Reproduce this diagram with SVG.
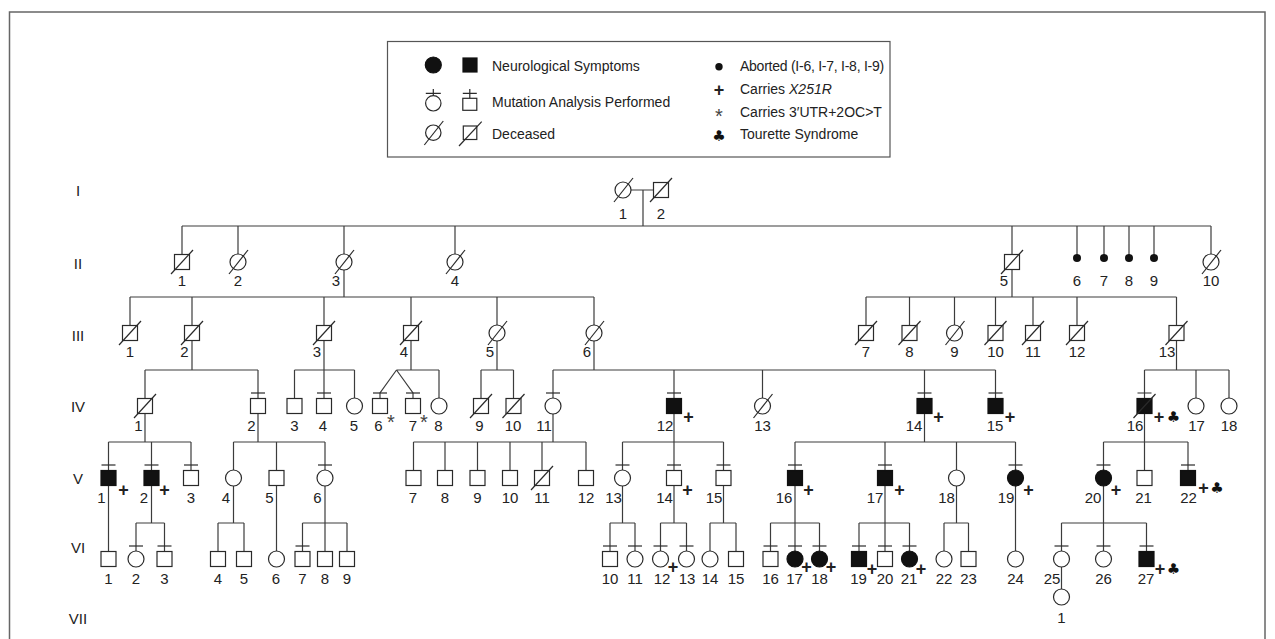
<svg xmlns="http://www.w3.org/2000/svg" width="1275" height="639" viewBox="0 0 1275 639">
<style>
.c{fill:none;stroke:#3c3c3c;stroke-width:1.2}
.o{fill:#fff;stroke:#2a2a2a;stroke-width:1.2}
.f{fill:#111;stroke:#111;stroke-width:1.2}
.k{fill:none;stroke:#2a2a2a;stroke-width:1.2}
.t{font-family:"Liberation Sans",Arial,Helvetica,sans-serif;font-size:15px;fill:#222;text-anchor:middle}
.p{font-family:"Liberation Sans",Arial,sans-serif;font-size:18px;font-weight:bold;fill:#222;text-anchor:middle}
.a{font-family:"Liberation Sans",Arial,sans-serif;font-size:20px;fill:#444;text-anchor:middle}
.cl{font-family:"DejaVu Sans",sans-serif;font-size:15px;fill:#111;text-anchor:middle}
.lg{font-family:"Liberation Sans",Arial,sans-serif;font-size:14px;fill:#222}
</style>
<rect x="0" y="0" width="1275" height="639" fill="#fff"/>
<rect x="9.5" y="12" width="1255.5" height="700" fill="none" stroke="#666" stroke-width="1.5"/>

<g id="legend">
<rect x="387.5" y="41.5" width="502.5" height="115.5" fill="#fff" stroke="#555" stroke-width="1.2"/>
<circle cx="433.3" cy="65" r="8" class="f"/>
<rect x="463" y="58" width="14" height="14" class="f"/>
<text class="lg" x="492" y="70.7">Neurological Symptoms</text>
<path class="k" d="M433.3 89 V95.6 M425.8 93.3 H440.8"/>
<circle cx="433.3" cy="103.3" r="7.7" class="o"/>
<path class="k" d="M469.8 89 V98.3 M462.8 93.3 H476.8"/>
<rect x="462.8" y="98.3" width="14" height="12" class="o"/>
<text class="lg" x="492" y="107.3">Mutation Analysis Performed</text>
<circle cx="433.3" cy="132.7" r="7.7" class="o"/>
<path class="k" d="M424.3 145 L443.3 121"/>
<rect x="463.3" y="126" width="13.5" height="13.5" class="o"/>
<path class="k" d="M459 146 L481.7 121.7"/>
<text class="lg" x="492" y="139">Deceased</text>
<circle cx="719" cy="66.7" r="3.7" fill="#111"/>
<text class="lg" x="740" y="70.7" letter-spacing="-0.25">Aborted (I-6, I-7, I-8, I-9)</text>
<text class="p" x="719" y="96" font-weight="normal">+</text>
<text class="lg" x="740" y="94">Carries <tspan font-style="italic">X251R</tspan></text>
<text class="a" x="719" y="123">*</text>
<text class="lg" x="740" y="117.3">Carries 3′UTR+2OC&gt;T</text>
<text class="cl" x="719" y="140.5">♣</text>
<text class="lg" x="740" y="139">Tourette Syndrome</text>
</g>

<g id="generation-labels">
<text class="t" x="78" y="195.5">I</text>
<text class="t" x="78" y="268.5">II</text>
<text class="t" x="78" y="340.5">III</text>
<text class="t" x="78" y="412">IV</text>
<text class="t" x="78" y="483.5">V</text>
<text class="t" x="78" y="553">VI</text>
<text class="t" x="78" y="623.5">VII</text>
</g>

<g id="connectors">
<path class="c" d="M631 190 H653.5 M643 190 V226 M182 226 H1211 M182 226 V254.5 M238 226 V254 M344 226 V254 M455 226 V254 M1012 226 V254.5 M1077 226 V258 M1104 226 V258 M1129 226 V258 M1154 226 V258 M1211 226 V254"/>
<path class="c" d="M344 270 V297 M130 297 H594 M130 297 V325.5 M192 297 V325.5 M324 297 V325.5 M411 297 V325.5 M497 297 V325 M594 297 V325"/>
<path class="c" d="M1012 269.5 V297 M866 297 H1176.5 M866 297 V325.5 M909.5 297 V325.5 M954.5 297 V325 M995.5 297 V325.5 M1033 297 V325.5 M1077 297 V325.5 M1176.5 297 V325.5"/>
<path class="c" d="M192 340.5 V370 M145 370 H258 M145 370 V398.5 M258 370 V398.5"/>
<path class="c" d="M324 340.5 V370 M294.5 370 H354.5 M294.5 370 V398.5 M324 370 V398.5 M354.5 370 V398"/>
<path class="c" d="M411 340.5 V370 M396.5 370 H439 M396.5 370 L380 393 V398.5 M396.5 370 L413 393 V398.5 M439 370 V398"/>
<path class="c" d="M497 341 V370 M481 370 H513.5 M481 370 V398.5 M513.5 370 V398.5"/>
<path class="c" d="M594 341 V370 M553 370 H995.5 M553 370 V398 M674 370 V398.5 M762.5 370 V398 M924.5 370 V398.5 M995.5 370 V398.5"/>
<path class="c" d="M1176.5 340.5 V370 M1144.5 370 H1229 M1144.5 370 V398.5 M1196 370 V398 M1229 370 V398"/>
<path class="c" d="M145 413.5 V442 M108.5 442 H191 M108.5 442 V470.5 M151.5 442 V470.5 M191 442 V470.5"/>
<path class="c" d="M258 413.5 V442 M233.5 442 H325 M233.5 442 V470 M276.5 442 V470.5 M325 442 V470"/>
<path class="c" d="M553 414 V442 M413.5 442 H586 M413.5 442 V470.5 M445 442 V470.5 M477.5 442 V470.5 M510 442 V470.5 M542 442 V470.5 M586 442 V470.5"/>
<path class="c" d="M674 413.5 V442 M622.5 442 H723.5 M622.5 442 V470 M674 442 V470.5 M723.5 442 V470.5"/>
<path class="c" d="M924.5 413.5 V442 M795 442 H1015.5 M795 442 V470.5 M885 442 V470.5 M956.5 442 V470 M1015.5 442 V470"/>
<path class="c" d="M1144.5 413.5 V442 M1103.5 442 H1188 M1103.5 442 V470 M1144.5 442 V470.5 M1188 442 V470.5"/>
<path class="c" d="M108.5 485.5 V551.5"/>
<path class="c" d="M151.5 485.5 V523 M136 523 H164.5 M136 523 V551 M164.5 523 V551.5"/>
<path class="c" d="M233.5 486 V523 M218 523 H244 M218 523 V551.5 M244 523 V551.5"/>
<path class="c" d="M276.5 485.5 V551"/>
<path class="c" d="M325 486 V523 M302.5 523 H347 M302.5 523 V551.5 M325 523 V551.5 M347 523 V551.5"/>
<path class="c" d="M622.5 486 V523 M610 523 H635 M610 523 V551.5 M635 523 V551"/>
<path class="c" d="M674 485.5 V523 M660.5 523 H686.5 M660.5 523 V551 M686.5 523 V551"/>
<path class="c" d="M723.5 485.5 V523 M710 523 H736 M710 523 V551 M736 523 V551.5"/>
<path class="c" d="M795 485.5 V523 M770.5 523 H819.5 M770.5 523 V551.5 M795 523 V551 M819.5 523 V551"/>
<path class="c" d="M885 485.5 V523 M859 523 H909.5 M859 523 V551.5 M885 523 V551.5 M909.5 523 V551"/>
<path class="c" d="M956.5 486 V523 M944 523 H968.5 M944 523 V551 M968.5 523 V551.5"/>
<path class="c" d="M1015.5 486 V551"/>
<path class="c" d="M1103.5 486 V523 M1061.5 523 H1146.5 M1061.5 523 V551 M1103.5 523 V551 M1146.5 523 V551.5"/>
<path class="c" d="M1061.5 567 V589"/>
</g>

<g id="I-1"><circle class="o" cx="623" cy="190" r="8"/><path class="k" d="M614 202 L633 178"/><text class="t" x="623" y="218.5">1</text></g>
<g id="I-2"><rect class="o" x="653.5" y="182.5" width="15" height="15"/><path class="k" d="M650 202 L672 178"/><text class="t" x="661" y="218.5">2</text></g>

<g id="II-1"><rect class="o" x="174.5" y="254.5" width="15" height="15"/><path class="k" d="M171 274 L193 250"/><text class="t" x="182" y="285.5">1</text></g>
<g id="II-2"><circle class="o" cx="238" cy="262" r="8"/><path class="k" d="M229 274 L248 250"/><text class="t" x="238" y="285.5">2</text></g>
<g id="II-3"><circle class="o" cx="344" cy="262" r="8"/><path class="k" d="M335 274 L354 250"/><text class="t" x="336" y="285.5">3</text></g>
<g id="II-4"><circle class="o" cx="455" cy="262" r="8"/><path class="k" d="M446 274 L465 250"/><text class="t" x="455" y="285.5">4</text></g>
<g id="II-5"><rect class="o" x="1004.5" y="254.5" width="15" height="15"/><path class="k" d="M1001 274 L1023 250"/><text class="t" x="1004" y="285.5">5</text></g>
<g id="II-6"><circle cx="1077" cy="258" r="4" fill="#111"/><text class="t" x="1077" y="285.5">6</text></g>
<g id="II-7"><circle cx="1104" cy="258" r="4" fill="#111"/><text class="t" x="1104" y="285.5">7</text></g>
<g id="II-8"><circle cx="1129" cy="258" r="4" fill="#111"/><text class="t" x="1129" y="285.5">8</text></g>
<g id="II-9"><circle cx="1154" cy="258" r="4" fill="#111"/><text class="t" x="1154" y="285.5">9</text></g>
<g id="II-10"><circle class="o" cx="1211" cy="262" r="8"/><path class="k" d="M1202 274 L1221 250"/><text class="t" x="1211" y="285.5">10</text></g>

<g id="III-1"><rect class="o" x="122.5" y="325.5" width="15" height="15"/><path class="k" d="M119 345 L141 321"/><text class="t" x="130" y="357">1</text></g>
<g id="III-2"><rect class="o" x="184.5" y="325.5" width="15" height="15"/><path class="k" d="M181 345 L203 321"/><text class="t" x="184.5" y="357">2</text></g>
<g id="III-3"><rect class="o" x="316.5" y="325.5" width="15" height="15"/><path class="k" d="M313 345 L335 321"/><text class="t" x="317" y="357">3</text></g>
<g id="III-4"><rect class="o" x="403.5" y="325.5" width="15" height="15"/><path class="k" d="M400 345 L422 321"/><text class="t" x="404" y="357">4</text></g>
<g id="III-5"><circle class="o" cx="497" cy="333" r="8"/><path class="k" d="M488 345 L507 321"/><text class="t" x="490" y="357">5</text></g>
<g id="III-6"><circle class="o" cx="594" cy="333" r="8"/><path class="k" d="M585 345 L604 321"/><text class="t" x="587" y="357">6</text></g>
<g id="III-7"><rect class="o" x="858.5" y="325.5" width="15" height="15"/><path class="k" d="M855 345 L877 321"/><text class="t" x="866" y="357">7</text></g>
<g id="III-8"><rect class="o" x="902" y="325.5" width="15" height="15"/><path class="k" d="M898.5 345 L920.5 321"/><text class="t" x="909.5" y="357">8</text></g>
<g id="III-9"><circle class="o" cx="954.5" cy="333" r="8"/><path class="k" d="M945.5 345 L964.5 321"/><text class="t" x="954.5" y="357">9</text></g>
<g id="III-10"><rect class="o" x="988" y="325.5" width="15" height="15"/><path class="k" d="M984.5 345 L1006.5 321"/><text class="t" x="995.5" y="357">10</text></g>
<g id="III-11"><rect class="o" x="1025.5" y="325.5" width="15" height="15"/><path class="k" d="M1022 345 L1044 321"/><text class="t" x="1033" y="357">11</text></g>
<g id="III-12"><rect class="o" x="1069.5" y="325.5" width="15" height="15"/><path class="k" d="M1066 345 L1088 321"/><text class="t" x="1077" y="357">12</text></g>
<g id="III-13"><rect class="o" x="1169" y="325.5" width="15" height="15"/><path class="k" d="M1165.5 345 L1187.5 321"/><text class="t" x="1167" y="357">13</text></g>

<g id="IV-1"><rect class="o" x="137.5" y="398.5" width="15" height="15"/><path class="k" d="M134 418 L156 394"/><text class="t" x="138.5" y="430.5">1</text></g>
<g id="IV-2"><rect class="o" x="250.5" y="398.5" width="15" height="15"/><path class="k" d="M251 393 H265"/><text class="t" x="251.5" y="430.5">2</text></g>
<g id="IV-3"><rect class="o" x="287" y="398.5" width="15" height="15"/><text class="t" x="294.5" y="430.5">3</text></g>
<g id="IV-4"><rect class="o" x="316.5" y="398.5" width="15" height="15"/><path class="k" d="M317 393 H331"/><text class="t" x="323" y="430.5">4</text></g>
<g id="IV-5"><circle class="o" cx="354.5" cy="406" r="8"/><text class="t" x="354" y="430.5">5</text></g>
<g id="IV-6"><rect class="o" x="372.5" y="398.5" width="15" height="15"/><path class="k" d="M373 393 H387"/><text class="t" x="378.5" y="430.5">6</text><text class="a" x="391" y="428.5">*</text></g>
<g id="IV-7"><rect class="o" x="405.5" y="398.5" width="15" height="15"/><path class="k" d="M406 393 H420"/><text class="t" x="413" y="430.5">7</text><text class="a" x="424" y="428.5">*</text></g>
<g id="IV-8"><circle class="o" cx="439" cy="406" r="8"/><text class="t" x="438.5" y="430.5">8</text></g>
<g id="IV-9"><rect class="o" x="473.5" y="398.5" width="15" height="15"/><path class="k" d="M470 418 L492 394"/><text class="t" x="479.5" y="430.5">9</text></g>
<g id="IV-10"><rect class="o" x="506" y="398.5" width="15" height="15"/><path class="k" d="M502.5 418 L524.5 394"/><text class="t" x="513" y="430.5">10</text></g>
<g id="IV-11"><circle class="o" cx="553" cy="406" r="8"/><path class="k" d="M546 393 H560"/><text class="t" x="544" y="430.5">11</text></g>
<g id="IV-12"><rect class="f" x="666.5" y="398.5" width="15" height="15"/><path class="k" d="M667 393 H681"/><text class="t" x="665" y="430.5">12</text><text class="p" x="688.5" y="423">+</text></g>
<g id="IV-13"><circle class="o" cx="762.5" cy="406" r="8"/><path class="k" d="M753.5 418 L772.5 394"/><text class="t" x="762.5" y="430.5">13</text></g>
<g id="IV-14"><rect class="f" x="917" y="398.5" width="15" height="15"/><path class="k" d="M917.5 393 H931.5"/><text class="t" x="914" y="430.5">14</text><text class="p" x="938.5" y="423">+</text></g>
<g id="IV-15"><rect class="f" x="988" y="398.5" width="15" height="15"/><path class="k" d="M988.5 393 H1002.5"/><text class="t" x="995" y="430.5">15</text><text class="p" x="1010" y="423">+</text></g>
<g id="IV-16"><rect class="f" x="1137" y="398.5" width="15" height="15"/><path class="k" d="M1137.5 393 H1151.5 M1133.5 418 L1155.5 394"/><text class="t" x="1135" y="430.5">16</text><text class="p" x="1159" y="423">+</text><text class="cl" x="1173.5" y="422">♣</text></g>
<g id="IV-17"><circle class="o" cx="1196" cy="406" r="8"/><text class="t" x="1196.5" y="430.5">17</text></g>
<g id="IV-18"><circle class="o" cx="1229" cy="406" r="8"/><text class="t" x="1229" y="430.5">18</text></g>

<g id="V-1"><rect class="f" x="101" y="470.5" width="15" height="15"/><path class="k" d="M101.5 465 H115.5"/><text class="t" x="101.5" y="502.5">1</text><text class="p" x="123.5" y="496">+</text></g>
<g id="V-2"><rect class="f" x="144" y="470.5" width="15" height="15"/><path class="k" d="M144.5 465 H158.5"/><text class="t" x="144" y="502.5">2</text><text class="p" x="164.5" y="496">+</text></g>
<g id="V-3"><rect class="o" x="183.5" y="470.5" width="15" height="15"/><path class="k" d="M184 465 H198"/><text class="t" x="191" y="502.5">3</text></g>
<g id="V-4"><circle class="o" cx="233.5" cy="478" r="8"/><text class="t" x="226" y="502.5">4</text></g>
<g id="V-5"><rect class="o" x="269" y="470.5" width="15" height="15"/><text class="t" x="269.5" y="502.5">5</text></g>
<g id="V-6"><circle class="o" cx="325" cy="478" r="8"/><path class="k" d="M318 465 H332"/><text class="t" x="317.5" y="502.5">6</text></g>
<g id="V-7"><rect class="o" x="406" y="470.5" width="15" height="15"/><text class="t" x="413" y="502.5">7</text></g>
<g id="V-8"><rect class="o" x="437.5" y="470.5" width="15" height="15"/><text class="t" x="445" y="502.5">8</text></g>
<g id="V-9"><rect class="o" x="470" y="470.5" width="15" height="15"/><text class="t" x="477.5" y="502.5">9</text></g>
<g id="V-10"><rect class="o" x="502.5" y="470.5" width="15" height="15"/><text class="t" x="510" y="502.5">10</text></g>
<g id="V-11"><rect class="o" x="534.5" y="470.5" width="15" height="15"/><path class="k" d="M531 490 L553 466"/><text class="t" x="542" y="502.5">11</text></g>
<g id="V-12"><rect class="o" x="578.5" y="470.5" width="15" height="15"/><text class="t" x="586" y="502.5">12</text></g>
<g id="V-13"><circle class="o" cx="622.5" cy="478" r="8"/><path class="k" d="M615.5 465 H629.5"/><text class="t" x="613.5" y="502.5">13</text></g>
<g id="V-14"><rect class="o" x="666.5" y="470.5" width="15" height="15"/><path class="k" d="M667 465 H681"/><text class="t" x="664.5" y="502.5">14</text><text class="p" x="687.5" y="496">+</text></g>
<g id="V-15"><rect class="o" x="716" y="470.5" width="15" height="15"/><path class="k" d="M716.5 465 H730.5"/><text class="t" x="714" y="502.5">15</text></g>
<g id="V-16"><rect class="f" x="787.5" y="470.5" width="15" height="15"/><path class="k" d="M788 465 H802"/><text class="t" x="784" y="502.5">16</text><text class="p" x="808.5" y="496">+</text></g>
<g id="V-17"><rect class="f" x="877.5" y="470.5" width="15" height="15"/><path class="k" d="M878 465 H892"/><text class="t" x="875" y="502.5">17</text><text class="p" x="899.5" y="496">+</text></g>
<g id="V-18"><circle class="o" cx="956.5" cy="478" r="8"/><text class="t" x="946.5" y="502.5">18</text></g>
<g id="V-19"><circle class="f" cx="1015.5" cy="478" r="8"/><path class="k" d="M1008.5 465 H1022.5"/><text class="t" x="1006" y="502.5">19</text><text class="p" x="1028.5" y="496">+</text></g>
<g id="V-20"><circle class="f" cx="1103.5" cy="478" r="8"/><path class="k" d="M1096.5 465 H1110.5"/><text class="t" x="1093" y="502.5">20</text><text class="p" x="1116" y="496">+</text></g>
<g id="V-21"><rect class="o" x="1137" y="470.5" width="15" height="15"/><text class="t" x="1143.5" y="502.5">21</text></g>
<g id="V-22"><rect class="f" x="1180.5" y="470.5" width="15" height="15"/><path class="k" d="M1181 465 H1195"/><text class="t" x="1188.5" y="502.5">22</text><text class="p" x="1203.5" y="494">+</text><text class="cl" x="1217" y="493">♣</text></g>

<g id="VI-1"><rect class="o" x="101" y="551.5" width="15" height="15"/><text class="t" x="108.5" y="583.5">1</text></g>
<g id="VI-2"><circle class="o" cx="136" cy="559" r="8"/><path class="k" d="M129 546 H143"/><text class="t" x="136" y="583.5">2</text></g>
<g id="VI-3"><rect class="o" x="157" y="551.5" width="15" height="15"/><path class="k" d="M157.5 546 H171.5"/><text class="t" x="164.5" y="583.5">3</text></g>
<g id="VI-4"><rect class="o" x="210.5" y="551.5" width="15" height="15"/><text class="t" x="218" y="583.5">4</text></g>
<g id="VI-5"><rect class="o" x="236.5" y="551.5" width="15" height="15"/><text class="t" x="244" y="583.5">5</text></g>
<g id="VI-6"><circle class="o" cx="276.5" cy="559" r="8"/><text class="t" x="276" y="583.5">6</text></g>
<g id="VI-7"><rect class="o" x="295" y="551.5" width="15" height="15"/><path class="k" d="M295.5 546 H309.5"/><text class="t" x="302.5" y="583.5">7</text></g>
<g id="VI-8"><rect class="o" x="317.5" y="551.5" width="15" height="15"/><text class="t" x="325" y="583.5">8</text></g>
<g id="VI-9"><rect class="o" x="339.5" y="551.5" width="15" height="15"/><text class="t" x="347" y="583.5">9</text></g>
<g id="VI-10"><rect class="o" x="602.5" y="551.5" width="15" height="15"/><path class="k" d="M603 546 H617"/><text class="t" x="610" y="583.5">10</text></g>
<g id="VI-11"><circle class="o" cx="635" cy="559" r="8"/><path class="k" d="M628 546 H642"/><text class="t" x="635" y="583.5">11</text></g>
<g id="VI-12"><circle class="o" cx="660.5" cy="559" r="8"/><path class="k" d="M653.5 546 H667.5"/><text class="t" x="662" y="583.5">12</text><text class="p" x="673" y="573">+</text></g>
<g id="VI-13"><circle class="o" cx="686.5" cy="559" r="8"/><path class="k" d="M679.5 546 H693.5"/><text class="t" x="687" y="583.5">13</text></g>
<g id="VI-14"><circle class="o" cx="710" cy="559" r="8"/><text class="t" x="710" y="583.5">14</text></g>
<g id="VI-15"><rect class="o" x="728.5" y="551.5" width="15" height="15"/><text class="t" x="736" y="583.5">15</text></g>
<g id="VI-16"><rect class="o" x="763" y="551.5" width="15" height="15"/><path class="k" d="M763.5 546 H777.5"/><text class="t" x="770.5" y="583.5">16</text></g>
<g id="VI-17"><circle class="f" cx="795" cy="559" r="8"/><path class="k" d="M788 546 H802"/><text class="t" x="794.5" y="583.5">17</text><text class="p" x="806.5" y="573">+</text></g>
<g id="VI-18"><circle class="f" cx="819.5" cy="559" r="8"/><path class="k" d="M812.5 546 H826.5"/><text class="t" x="819.5" y="583.5">18</text><text class="p" x="831" y="573">+</text></g>
<g id="VI-19"><rect class="f" x="851.5" y="551.5" width="15" height="15"/><path class="k" d="M852 546 H866"/><text class="t" x="858.5" y="583.5">19</text><text class="p" x="872" y="574.5">+</text></g>
<g id="VI-20"><rect class="o" x="877.5" y="551.5" width="15" height="15"/><path class="k" d="M878 546 H892"/><text class="t" x="885" y="583.5">20</text></g>
<g id="VI-21"><circle class="f" cx="909.5" cy="559" r="8"/><path class="k" d="M902.5 546 H916.5"/><text class="t" x="909" y="583.5">21</text><text class="p" x="921" y="574.5">+</text></g>
<g id="VI-22"><circle class="o" cx="944" cy="559" r="8"/><text class="t" x="944" y="583.5">22</text></g>
<g id="VI-23"><rect class="o" x="961" y="551.5" width="15" height="15"/><text class="t" x="968.5" y="583.5">23</text></g>
<g id="VI-24"><circle class="o" cx="1015.5" cy="559" r="8"/><text class="t" x="1015.5" y="583.5">24</text></g>
<g id="VI-25"><circle class="o" cx="1061.5" cy="559" r="8"/><path class="k" d="M1054.5 546 H1068.5"/><text class="t" x="1052" y="583.5">25</text></g>
<g id="VI-26"><circle class="o" cx="1103.5" cy="559" r="8"/><path class="k" d="M1096.5 546 H1110.5"/><text class="t" x="1103.5" y="583.5">26</text></g>
<g id="VI-27"><rect class="f" x="1139" y="551.5" width="15" height="15"/><path class="k" d="M1139.5 546 H1153.5"/><text class="t" x="1146" y="583.5">27</text><text class="p" x="1160" y="574.5">+</text><text class="cl" x="1173.5" y="573.5">♣</text></g>

<g id="VII-1"><circle class="o" cx="1061.5" cy="597" r="8"/><text class="t" x="1061.5" y="622.5">1</text></g>
</svg>
